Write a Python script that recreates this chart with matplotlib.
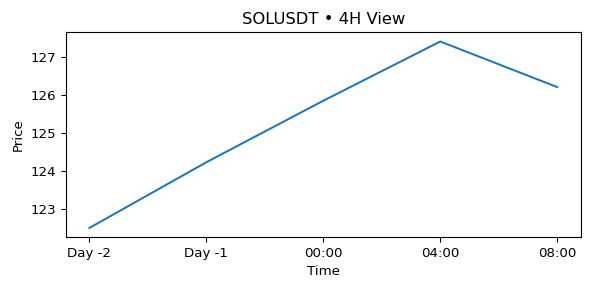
import matplotlib
matplotlib.use('Agg')
import matplotlib.pyplot as plt

labels = ['Day -2', 'Day -1', '00:00', '04:00', '08:00']
price = [122.5, 124.23, 125.85, 127.41, 126.21]

plt.rcParams['font.size'] = 9.6

fig, ax = plt.subplots(figsize=(5.9, 2.9), dpi=100)
fig.subplots_adjust(left=0.112, right=0.984, top=0.889, bottom=0.182)
ax.plot(labels, price, linewidth=1.45)
ax.set_title('SOLUSDT \u2022 4H View', fontsize=11.8)
ax.set_xlabel('Time')
ax.set_ylabel('Price')

fig.savefig('out.png')
